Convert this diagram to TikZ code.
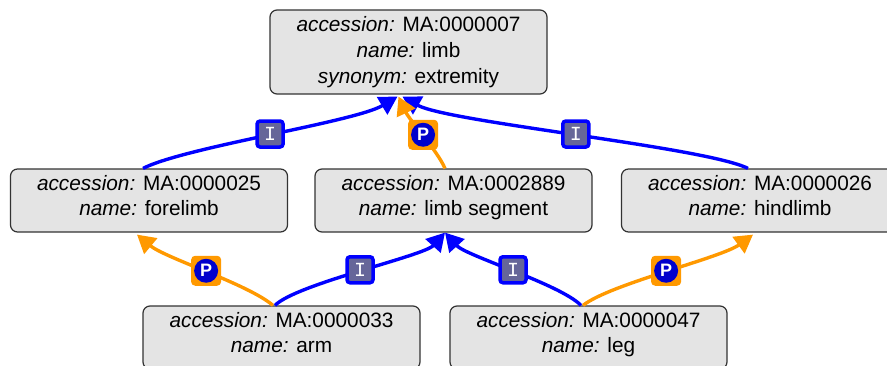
\documentclass[tikz,border=0pt]{standalone}
\usepackage{fontspec}
\setmainfont{Liberation Sans}
\setmonofont{Liberation Mono}
\usetikzlibrary{arrows.meta}
\definecolor{termgray}{HTML}{E4E4E4}
\definecolor{ifill}{HTML}{666699}
\definecolor{porange}{HTML}{FF9900}
\definecolor{pblue}{HTML}{0000CC}
\tikzset{
  % Set arrowhead
  >={Triangle[length=18pt, width=20pt]},
  % Ontology term
  term/.style={draw=black!80, fill=termgray, line width=1.2pt, rounded corners=7pt,
    minimum width=277pt, align=center, inner sep=0pt,
    font=\fontsize{20.8}{25.7}\selectfont},
  % Arrows
  isa/.style={->, draw=blue, line width=3.4pt},
  partof/.style={->, draw=porange, line width=3.4pt},
  % Edge badges
  ilabel/.style={draw=blue, fill=ifill, line width=3.5pt, rounded corners=3pt,
    minimum size=26pt, inner sep=0pt, text=white,
    font=\fontsize{20}{20}\ttfamily},
  pdot/.style={circle, fill=pblue, minimum size=24pt, inner sep=0pt, text=white,
    font=\fontsize{18}{18}\selectfont\bfseries},
  plabel/.style={fill=porange, rounded corners=4pt, minimum size=30pt,
    inner sep=0pt, label={[pdot]center:P}},
}
\newcommand{\attr}[1]{\textit{#1:}}
% room under the last line of a two line term
\newcommand{\lift}{\rule[-10pt]{0pt}{0pt}}
\begin{document}
\begin{tikzpicture}[x=1pt, y=-1pt]
  \useasboundingbox (0,0) rectangle (887,365);
  % Terms
  \node[term, minimum height=84pt] (limb) at (408.5,52)
    {\attr{accession} MA:0000007\\ \attr{name} limb\\ \attr{synonym} extremity};
  \node[term, minimum height=63pt] (forelimb) at (149,200.5)
    {\attr{accession} MA:0000025\\ \attr{name} forelimb\lift};
  \node[term, minimum height=63pt] (segment) at (453.5,200.5)
    {\attr{accession} MA:0002889\\ \attr{name} limb segment\lift};
  \node[term, minimum height=63pt] (hindlimb) at (760,200.5)
    {\attr{accession} MA:0000026\\ \attr{name} hindlimb\lift};
  \node[term, minimum height=63pt] (arm) at (281.5,337.5)
    {\attr{accession} MA:0000033\\ \attr{name} arm\lift};
  \node[term, minimum height=63pt] (leg) at (588.5,337.5)
    {\attr{accession} MA:0000047\\ \attr{name} leg\lift};

  % Second level to root
  \draw[isa] ([xshift=-6pt]forelimb.north) .. controls (185,147) and (355,122) ..
    ([xshift=-11pt, yshift=-2pt]limb.south) node[pos=.5, ilabel] {I};
  \draw[isa] ([xshift=-12pt]hindlimb.north) .. controls (705,147) and (447,122) ..
    ([xshift=-6pt, yshift=-2pt]limb.south) node[pos=.5, ilabel] {I};
  \draw[partof] ([xshift=-8.5pt]segment.north) .. controls (437,150) and (410,121) ..
    ([xshift=-10pt, yshift=-2pt]limb.south) node[pos=.5, plabel] {};

  % Third level
  \draw[partof] ([xshift=-8.5pt]arm.north) .. controls (248,284) and (165,258) ..
    ([xshift=-12pt, yshift=-2pt]forelimb.south) node[pos=.5, plabel] {};
  \draw[isa] ([xshift=-6.5pt]arm.north) .. controls (296,284) and (424,256) ..
    ([xshift=-8.5pt, yshift=0pt]segment.south) node[pos=.5, ilabel] {I};
  \draw[isa] ([xshift=-7.5pt]leg.north) .. controls (560,284) and (466,256) ..
    ([xshift=-8.5pt, yshift=0pt]segment.south) node[pos=.5, ilabel] {I};
  \draw[partof] ([xshift=-5.5pt]leg.north) .. controls (610,284) and (721,258) ..
    ([xshift=-7pt, yshift=-2pt]hindlimb.south) node[pos=.5, plabel] {};
\end{tikzpicture}
\end{document}
